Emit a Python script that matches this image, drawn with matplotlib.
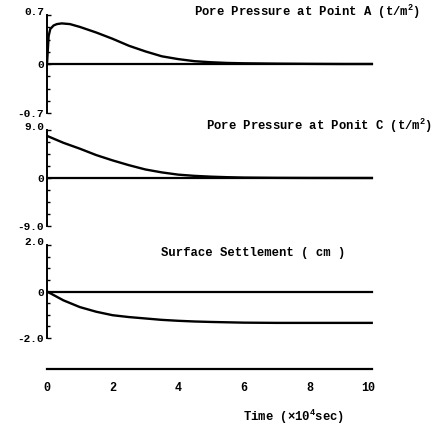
import matplotlib
matplotlib.use('Agg')
import matplotlib.pyplot as plt
from matplotlib.ticker import MultipleLocator

# Pore pressure at point A (t/m2)
t_a = [0, 0.05, 0.1, 0.2, 0.3, 0.45, 0.7, 1.0, 1.5, 2.0, 2.5, 3.0, 3.5, 4.0, 4.5, 5.0, 5.5, 6.0, 7.0, 8.0, 9.0, 9.9]
p_a = [0, 0.40, 0.50, 0.55, 0.57, 0.58, 0.57, 0.53, 0.45, 0.36, 0.26, 0.18, 0.11, 0.07, 0.04, 0.025, 0.015, 0.01, 0.005, 0.002, 0, 0]

# Pore pressure at point C (t/m2)
t_c = [0, 0.5, 1, 1.5, 2, 2.5, 3, 3.5, 4, 4.5, 5, 5.5, 6, 7, 8, 9.9]
p_c = [7.9, 6.6, 5.5, 4.3, 3.3, 2.4, 1.6, 1.05, 0.63, 0.4, 0.25, 0.15, 0.08, 0.03, 0.01, 0]

# Surface settlement (cm)
t_s = [0, 0.5, 1, 1.5, 2, 2.5, 3, 3.5, 4, 4.5, 5, 6, 7, 8, 9.9]
s_s = [0, -0.38, -0.67, -0.87, -1.02, -1.10, -1.16, -1.22, -1.26, -1.29, -1.31, -1.34, -1.35, -1.35, -1.35]

x_ticks = [0, 2, 4, 6, 8, 10]
x_labels = ['0', '2', '4', '6', '8', '10']
t_end = 9.9

titles = ['Pore Pressure at Point A (t/m$^2$)',
          'Pore Pressure at Ponit C (t/m$^2$)',
          'Surface Settlement ( cm )']
limits = [0.7, 9.0, 2.0]
ylabels = [['-0.7', '0', '0.7'], ['-9.0', '0', '9.0'], ['-2.0', '0', '2.0']]

font = 'Liberation Mono'
plt.rcParams['font.family'] = font
plt.rcParams['font.weight'] = 'bold'
plt.rcParams['mathtext.fontset'] = 'custom'
plt.rcParams['mathtext.rm'] = font + ':bold'
plt.rcParams['mathtext.it'] = font + ':bold'
plt.rcParams['mathtext.bf'] = font + ':bold'

fig = plt.figure(figsize=(4.36, 4.25), dpi=100)

left = 47 / 436.
width = (375 - 47) / 436.
# (top pixel, bottom pixel) of each panel
rows = [(15, 113), (130, 226), (245, 338)]
title_pos = [(420, 12), (432, 126), (345, 253)]

data = [(t_a, p_a), (t_c, p_c), (t_s, s_s)]

for i in range(3):
	top, bot = rows[i]
	ax = fig.add_axes([left, 1 - bot / 425., width, (bot - top) / 425.])
	tt, vv = data[i]
	ax.plot(tt, vv, color='black', lw=1.7)
	ax.plot([0, t_end], [0, 0], color='black', lw=1.6)
	lim = limits[i]
	ax.set_xlim(0, 10)
	ax.set_ylim(-lim, lim)
	for sp in ['top', 'right', 'bottom']:
		ax.spines[sp].set_visible(False)
	ax.spines['left'].set_linewidth(1.4)
	ax.set_xticks([])
	ax.set_yticks([-lim, 0, lim])
	ax.set_yticklabels(ylabels[i], fontsize=8)
	ax.yaxis.set_minor_locator(MultipleLocator(lim / 4.))
	ax.tick_params(axis='y', which='major', direction='in', length=3, width=1, pad=2)
	ax.tick_params(axis='y', which='minor', direction='in', length=2, width=1)
	ax.get_yticklabels()[-1].set_va('baseline')
	ax.get_yticklabels()[0].set_va('center_baseline')
	ax.patch.set_alpha(0)
	fig.text(title_pos[i][0] / 436., 1 - title_pos[i][1] / 425., titles[i],
		ha='right', va='center', fontsize=8.8)

# time axis
axt = fig.add_axes([left, 1 - 371 / 425., width, 0.01])
axt.set_xlim(0, 10)
axt.plot([0, t_end], [0, 0], color='black', lw=1.6, clip_on=False)
for sp in ['top', 'right', 'left', 'bottom']:
	axt.spines[sp].set_visible(False)
axt.set_yticks([])
axt.set_xticks(x_ticks)
axt.set_xticklabels(x_labels, fontsize=8.5)
axt.get_xticklabels()[-1].set_ha('right')
axt.tick_params(axis='x', length=0, pad=8)
axt.patch.set_alpha(0)
fig.text(294 / 436., 1 - 417 / 425., 'Time (\u00d710$^4$sec)', ha='center', va='center', fontsize=8.8)

plt.savefig('out.png', dpi=100)
